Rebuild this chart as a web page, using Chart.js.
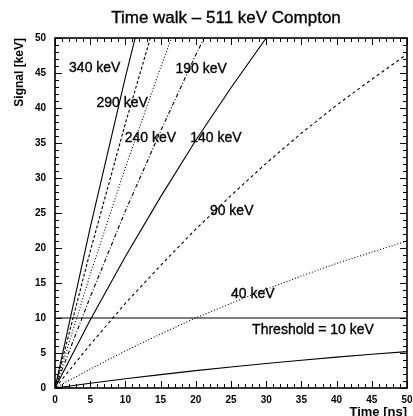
<!DOCTYPE html>
<html lang="en">
<head>
    <meta charset="UTF-8">
    <title>Time walk</title>
    <script src="https://cdn.jsdelivr.net/npm/chart.js@4.4.0/dist/chart.umd.min.js"></script>
    <style>
        html, body { margin:0; padding:0; background:#fff; }
        #board { width:413px; height:416px; }
    </style>
</head>
<body>
    <div id="board">
        <canvas id="chart1" width="413" height="416"></canvas>
    </div>
<script>
    // time axis [ns] and signal [keV]
    const timeNs = [0, 5, 10, 15, 20, 25, 30, 35, 40, 45, 50];
    const sig340 = [0, 22.9, 44.4, 64.6];
    const sig290 = [0, 19.5, 37.8, 55.0];
    const sig240 = [0, 16.2, 31.5, 45.8, 59.3];
    const sig190 = [0, 13.0, 25.3, 36.7, 47.6, 57.7];
    const sig140 = [0, 9.7, 18.8, 27.3, 35.4, 42.9, 50.0, 56.7];
    const sig90  = [0, 6.2, 12.1, 17.5, 22.7, 27.5, 32.1, 36.4, 40.4, 44.1, 47.7];
    const sig40  = [0, 2.7, 5.3, 7.7, 10.0, 12.1, 14.1, 16.0, 17.8, 19.4, 21.0];
    const sig10  = [0, 0.68, 1.32, 1.91, 2.48, 3.0, 3.5, 3.97, 4.41, 4.82, 5.2];
    const threshold = 10;
    const tickLabels = ['0', '5', '10', '15', '20', '25', '30', '35', '40', '45', '50'];

    const curveNames = ['340 keV', '290 keV', '240 keV', '190 keV', '140 keV', '90 keV', '40 keV', '10 keV'];
    const curveData = [sig340, sig290, sig240, sig190, sig140, sig90, sig40, sig10];
    const dashes = [[], [3, 2], [1, 2], [4, 2, 1, 2], [], [3, 3], [1, 2], []];

    function pts(vals){
        return vals.map((v, i) => ({x: timeNs[i], y: v}));
    }

    const datasets = curveData.map((vals, i) => ({
        label: curveNames[i],
        data: pts(vals),
        borderColor: '#000',
        borderWidth: 1.1,
        borderDash: dashes[i],
        pointRadius: 0,
        tension: 0,
        clip: 0
    }));
    datasets.push({
        label: 'Threshold',
        data: [{x: timeNs[0], y: threshold}, {x: timeNs[timeNs.length - 1], y: threshold}],
        borderColor: '#000',
        borderWidth: 1.2,
        pointRadius: 0,
        clip: 0
    });

    // text on the plot, in data units (left edge, middle)
    const notes = [
        ['340 keV', 2.0, 45.7], ['290 keV', 5.9, 40.7], ['190 keV', 17.1, 45.6],
        ['240 keV', 9.9, 35.7], ['140 keV', 19.2, 35.7], ['90 keV', 22.0, 25.3],
        ['40 keV', 25.0, 13.4], ['Threshold = 10 keV', 28.0, 8.3]
    ];

    const FONT = '"Liberation Sans", Arial, sans-serif';

    function heavyText(c, s, x, y){
        c.fillText(s, x, y);
        c.strokeText(s, x, y);
    }

    const frame = {
        id: 'frame',
        afterDatasetsDraw(chart){
            const c = chart.ctx, a = chart.chartArea;
            const xs = chart.scales.x, ys = chart.scales.y;
            c.save();
            c.strokeStyle = '#000';
            c.lineWidth = 1.6;
            c.strokeRect(a.left, a.top, a.right - a.left, a.bottom - a.top);
            c.lineWidth = 1;
            c.beginPath();
            for (let v = 0; v <= 50; v++){
                const len = v % 5 === 0 ? 7 : 4;
                const px = Math.round(xs.getPixelForValue(v)) + 0.5;
                c.moveTo(px, a.bottom); c.lineTo(px, a.bottom - len);
                c.moveTo(px, a.top); c.lineTo(px, a.top + len);
                const py = Math.round(ys.getPixelForValue(v)) + 0.5;
                c.moveTo(a.left, py); c.lineTo(a.left + len, py);
                c.moveTo(a.right, py); c.lineTo(a.right - len, py);
            }
            c.stroke();

            c.fillStyle = '#000';
            c.lineWidth = 0.35;
            c.textBaseline = 'middle';

            c.font = '17px ' + FONT;
            c.textAlign = 'center';
            heavyText(c, 'Time walk \u2013 511 keV Compton', 226, 18);

            c.font = '14px ' + FONT;
            c.textAlign = 'left';
            notes.forEach(n => heavyText(c, n[0], xs.getPixelForValue(n[1]), ys.getPixelForValue(n[2])));

            c.font = 'bold 13px ' + FONT;
            c.textAlign = 'right';
            c.fillText('Time [ns]', a.right, 412);
            c.font = 'bold 12px ' + FONT;
            c.translate(20, a.top);
            c.rotate(-Math.PI / 2);
            c.fillText('Signal [keV]', 0, 0);
            c.restore();
        }
    };

    const tickFont = {family: FONT, size: 10, weight: 'bold'};

    new Chart(document.getElementById('chart1').getContext('2d'), {
        type: 'line',
        data: { datasets: datasets },
        options: {
            responsive: false,
            animation: false,
            layout: { padding: { top: 38, right: 6, bottom: 0, left: 0 } },
            plugins: {
                legend: { display: false },
                tooltip: { enabled: false },
                title: { display: false }
            },
            scales: {
                x: {
                    type: 'linear', min: 0, max: 50,
                    grid: { display: false, drawTicks: false },
                    border: { display: false },
                    ticks: {
                        stepSize: 5, color: '#000', font: tickFont, padding: 6,
                        maxRotation: 0,
                        callback: (v) => tickLabels[timeNs.indexOf(v)]
                    },
                    afterFit(s){ s.height = 28; s.paddingLeft = 0; s.paddingRight = 0; }
                },
                y: {
                    type: 'linear', min: 0, max: 50,
                    grid: { display: false, drawTicks: false },
                    border: { display: false },
                    ticks: {
                        stepSize: 5, color: '#000', font: tickFont, padding: 9,
                        callback: (v) => tickLabels[timeNs.indexOf(v)]
                    },
                    afterFit(s){ s.width = 55; s.paddingTop = 0; s.paddingBottom = 0; }
                }
            }
        },
        plugins: [frame]
    });
</script>
</body>
</html>
